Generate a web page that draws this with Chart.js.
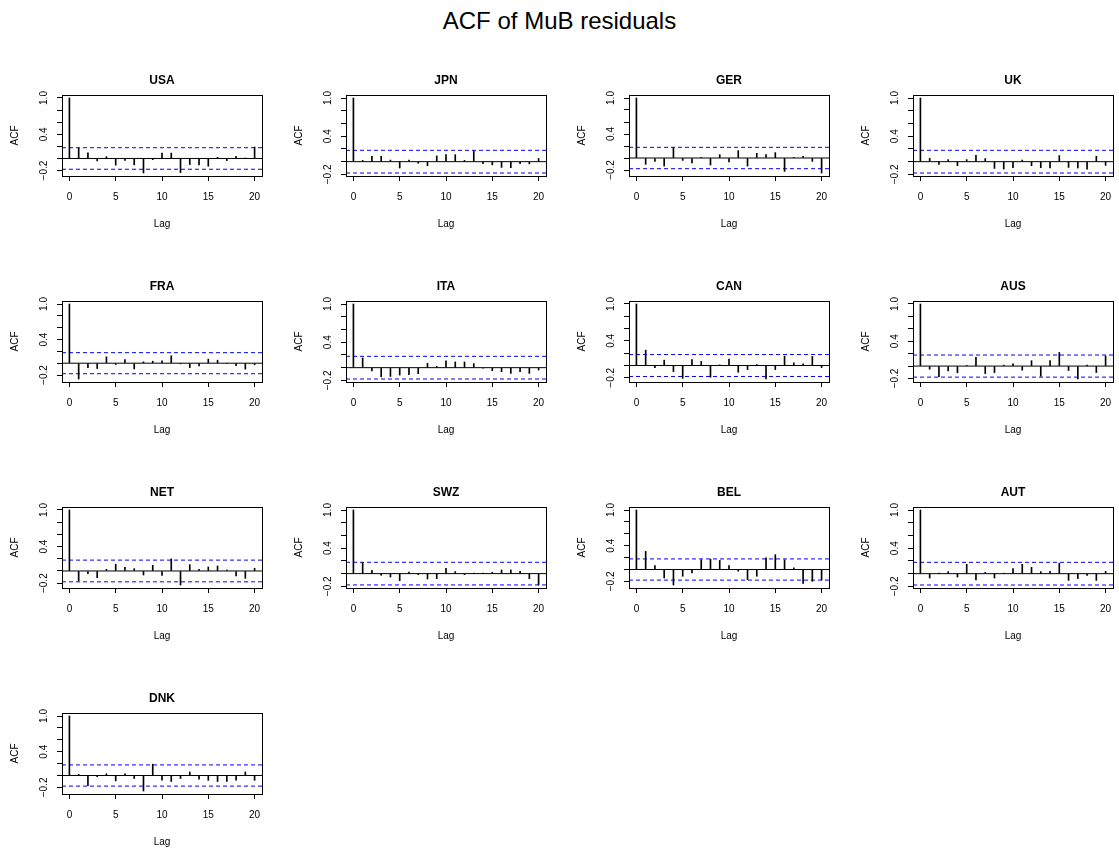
<!DOCTYPE html>
<html>
<head>
<meta charset="utf-8">
<title>ACF of MuB residuals</title>
<script src="https://cdn.jsdelivr.net/npm/chart.js@4.4.1/dist/chart.umd.min.js"></script>
<style>
  html, body { margin: 0; padding: 0; background: #fff; overflow: hidden; }
  body { width: 1119px; height: 852px; position: relative; font-family: "Liberation Sans", Arial, sans-serif; }
  h1 { position: absolute; left: 0; top: 0; width: 1119px; margin: 0; text-align: center;
       font-weight: normal; font-size: 24px; line-height: 42px; color: #000; }
  canvas.panel { position: absolute; }
</style>
</head>
<body>
<h1>ACF of MuB residuals</h1>
<script>
// lags and panel names
const lags = [0, 1, 2, 3, 4, 5, 6, 7, 8, 9, 10, 11, 12, 13, 14, 15, 16, 17, 18, 19, 20];
const countries = ['USA', 'JPN', 'GER', 'UK', 'FRA', 'ITA', 'CAN', 'AUS', 'NET', 'SWZ', 'BEL', 'AUT', 'DNK'];

// autocorrelations, lag 0..20
const acfUSA = [1, 0.17, 0.094, -0.04, 0.03, -0.11, -0.03, -0.105, -0.24, -0.02, 0.09, 0.09, -0.234, -0.10, -0.105, -0.128, 0.02, -0.035, 0.035, 0.005, 0.19];
const acfJPN = [1, 0.02, 0.085, 0.085, 0.025, -0.10, 0.025, -0.025, -0.065, 0.09, 0.11, 0.11, 0.02, 0.165, -0.03, -0.05, -0.09, -0.095, -0.03, -0.035, 0.05];
const acfGER = [1, -0.105, -0.055, -0.134, 0.173, -0.04, -0.08, 0.005, -0.117, 0.056, -0.067, 0.123, -0.134, 0.078, 0.056, 0.09, -0.223, 0.005, 0.028, -0.056, -0.25];
const acfUK = [1, 0.053, -0.042, 0.032, -0.063, 0.032, 0.10, 0.048, -0.106, -0.116, -0.095, 0.026, -0.063, -0.095, -0.10, 0.095, -0.09, -0.10, -0.116, 0.085, -0.058];
const acfFRA = [1, -0.267, -0.074, -0.09, 0.108, -0.023, 0.062, -0.097, 0.023, 0.034, 0.04, 0.125, -0.011, -0.074, -0.045, 0.068, 0.051, -0.006, -0.04, -0.10, -0.028];
const acfITA = [1, 0.153, -0.053, -0.143, -0.138, -0.116, -0.111, -0.095, 0.069, 0.021, 0.106, 0.09, 0.09, 0.063, -0.005, -0.048, -0.063, -0.09, -0.063, -0.09, -0.037];
const acfCAN = [1, 0.25, -0.033, 0.087, -0.098, -0.208, 0.098, 0.066, -0.19, 0.011, 0.104, -0.109, -0.066, 0.016, -0.219, -0.066, 0.153, 0.044, 0.027, 0.148, -0.033];
const acfAUS = [1, -0.05, -0.17, -0.077, -0.109, 0.011, 0.142, -0.12, -0.104, 0.016, 0.038, -0.066, 0.087, -0.164, 0.087, 0.219, -0.071, -0.208, 0.016, -0.104, 0.164];
const acfNET = [1, -0.16, -0.044, -0.11, 0.027, 0.11, 0.06, 0.038, -0.066, 0.093, -0.071, 0.198, -0.23, 0.104, 0.027, 0.066, 0.082, 0.016, -0.082, -0.12, 0.044];
const acfSWZ = [1, 0.174, 0.053, -0.026, -0.053, -0.11, 0.026, -0.016, -0.084, -0.079, 0.084, 0.032, -0.016, 0.005, 0.002, 0.021, 0.058, 0.058, 0.037, -0.079, -0.179];
const acfBEL = [1, 0.305, 0.068, -0.141, -0.26, -0.113, -0.056, 0.164, 0.175, 0.153, 0.068, -0.028, -0.17, -0.113, 0.198, 0.249, 0.164, 0.028, -0.232, -0.198, -0.175];
const acfAUT = [1, -0.068, 0.005, 0.032, -0.053, 0.147, -0.10, 0.021, -0.068, 0.002, 0.079, 0.147, 0.10, 0.032, 0.037, 0.163, -0.105, -0.079, -0.026, -0.105, 0.037];
const acfDNK = [1, 0.02, -0.17, -0.02, 0.03, -0.09, 0.03, -0.05, -0.26, 0.19, -0.08, -0.10, -0.05, 0.06, -0.06, -0.08, -0.10, -0.10, -0.08, 0.06, -0.08];

const series = [acfUSA, acfJPN, acfGER, acfUK, acfFRA, acfITA, acfCAN, acfAUS, acfNET, acfSWZ, acfBEL, acfAUT, acfDNK];

// 95% band and axis ticks
const clim = 0.178;
const xTicks = [0, 5, 10, 15, 20];
const yTicks = [-0.2, 0, 0.2, 0.4, 0.6, 0.8, 1.0];
const yTickLabels = [-0.2, 0.4, 1.0];

const xMin = -0.8, xMax = 20.8;
const colLeft = [0, 284, 567, 851];
const font = '"Liberation Sans", Arial, sans-serif';

function fmt(v) {
  return (v < 0 ? '\u2212' : '') + Math.abs(v).toFixed(1);
}

// box around plot area + rotated y tick labels, like base R
const framePlugin = {
  id: 'frame',
  afterDraw(chart) {
    const { ctx, chartArea: a } = chart;
    const y = chart.scales.y;
    ctx.save();
    ctx.strokeStyle = '#000';
    ctx.lineWidth = 1;
    ctx.strokeRect(Math.round(a.left) + 0.5, Math.round(a.top) + 0.5,
      Math.round(a.right - a.left), Math.round(a.bottom - a.top));
    ctx.fillStyle = '#000';
    ctx.font = '10px ' + font;
    ctx.textAlign = 'center';
    ctx.textBaseline = 'middle';
    yTickLabels.forEach(v => {
      ctx.save();
      ctx.translate(a.left - 18, y.getPixelForValue(v));
      ctx.rotate(-Math.PI / 2);
      ctx.fillText(fmt(v), 0, 0);
      ctx.restore();
    });
    ctx.restore();
  }
};

function hline(val, color, dash) {
  return {
    type: 'line',
    data: [{ x: xMin, y: val }, { x: xMax, y: val }],
    borderColor: color,
    borderWidth: 1,
    borderDash: dash,
    pointRadius: 0,
    fill: false,
    order: 2
  };
}

countries.forEach((name, i) => {
  const vals = series[i];
  const col = i % 4, row = Math.floor(i / 4);
  const cv = document.createElement('canvas');
  cv.width = 268;
  cv.height = 190;
  cv.className = 'panel';
  cv.style.left = colLeft[col] + 'px';
  cv.style.top = (60 + 206 * row) + 'px';
  document.body.appendChild(cv);

  const lo = Math.min(-clim, ...vals);
  const ext = 0.04 * (1 - lo);

  new Chart(cv.getContext('2d'), {
    type: 'bar',
    data: {
      datasets: [
        {
          type: 'bar',
          data: lags.map((l, k) => ({ x: l, y: vals[k] })),
          backgroundColor: '#000',
          borderWidth: 0,
          barThickness: 1,
          order: 1
        },
        hline(0, '#000', []),
        hline(clim, '#0000ff', [4, 3]),
        hline(-clim, '#0000ff', [4, 3])
      ]
    },
    options: {
      responsive: false,
      animation: false,
      devicePixelRatio: 1,
      layout: { padding: { left: 0, right: 6, top: 0, bottom: 14 } },
      plugins: {
        legend: { display: false },
        tooltip: { enabled: false },
        title: {
          display: true,
          text: name,
          fullSize: false,
          color: '#000',
          font: { family: font, size: 12, weight: 'bold', lineHeight: 1.2 },
          padding: { top: 13, bottom: 7.6 }
        }
      },
      scales: {
        x: {
          type: 'linear',
          min: xMin,
          max: xMax,
          offset: false,
          afterBuildTicks: s => { s.ticks = xTicks.map(v => ({ value: v })); },
          afterFit: s => { s.height = 60; s.paddingLeft = 0; s.paddingRight = 0; },
          grid: { offset: false, drawOnChartArea: false, drawTicks: true, tickLength: 5, color: '#000' },
          border: { display: false },
          ticks: { color: '#000', padding: 10, font: { family: font, size: 10 }, maxRotation: 0, autoSkip: false },
          title: { display: true, text: 'Lag', color: '#000', font: { family: font, size: 10 }, padding: { top: 0, bottom: 6 } }
        },
        y: {
          type: 'linear',
          min: lo - ext,
          max: 1 + ext,
          afterBuildTicks: s => { s.ticks = yTicks.map(v => ({ value: v })); },
          afterFit: s => { s.width = 62; s.paddingTop = 0; s.paddingBottom = 0; },
          grid: { drawOnChartArea: false, drawTicks: true, tickLength: 5, color: '#000' },
          border: { display: false },
          ticks: { display: false },
          title: { display: true, text: 'ACF', color: '#000', font: { family: font, size: 10 }, padding: { top: 9, bottom: 0 } }
        }
      }
    },
    plugins: [framePlugin]
  });
});
</script>
</body>
</html>
